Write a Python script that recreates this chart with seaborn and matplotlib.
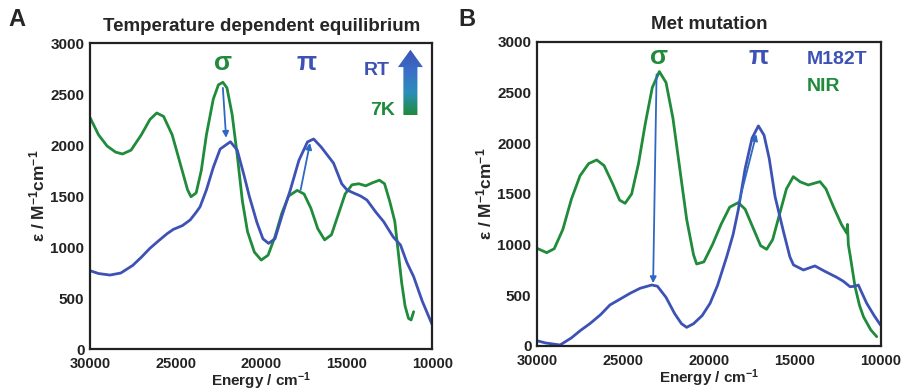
import matplotlib.pyplot as plt
import numpy as np
import pandas as pd
import seaborn as sns
from matplotlib.colors import LinearSegmentedColormap
from matplotlib.patches import FancyArrow

GREEN = "#1f8b3b"
BLUE = "#3d52b4"

# Panel A: temperature dependent equilibrium
a_7k_energy = [30000, 29500, 29000, 28500, 28100, 27600, 27000, 26500, 26100, 25700,
               25200, 24700, 24300, 24100, 23800, 23500, 23200, 22800, 22500, 22240,
               22000, 21700, 21400, 21100, 20800, 20400, 20000, 19600, 19200, 18800,
               18400, 17900, 17500, 17100, 16700, 16300, 15900, 15500, 15100, 14700,
               14300, 13900, 13500, 13100, 12800, 12500, 12200, 12000, 11800, 11600,
               11400, 11250, 11100]
a_7k_eps = [2270, 2100, 1990, 1930, 1912, 1950, 2100, 2250, 2314, 2280,
            2100, 1800, 1560, 1493, 1530, 1750, 2100, 2450, 2590, 2615,
            2560, 2300, 1900, 1450, 1150, 950, 872, 920, 1100, 1330,
            1500, 1555, 1520, 1380, 1180, 1070, 1120, 1320, 1520, 1610,
            1620, 1600, 1630, 1655, 1620, 1450, 1250, 950, 650, 420,
            300, 285, 366]

a_rt_energy = [30000, 29500, 28830, 28200, 27500, 27000, 26500, 26000, 25500, 25130,
               24600, 24150, 23800, 23570, 23200, 22800, 22400, 21800, 21400, 21000,
               20700, 20250, 19900, 19570, 19200, 18800, 18300, 17800, 17300, 16940,
               16500, 15780, 15300, 14990, 14600, 14200, 13830, 13300, 12850, 12300,
               11870, 11500, 11100, 10600, 10010]
a_rt_eps = [768, 740, 725, 745, 820, 900, 987, 1060, 1130, 1173,
            1210, 1265, 1340, 1395, 1560, 1780, 1960, 2032, 1950, 1700,
            1500, 1240, 1080, 1036, 1080, 1300, 1560, 1850, 2030, 2059,
            1980, 1823, 1620, 1559, 1529, 1500, 1461, 1340, 1248, 1100,
            1020, 850, 709, 470, 235]

# Panel B: Met mutation
b_nir_energy = [30000, 29440, 29000, 28500, 28000, 27500, 27000, 26530, 26100, 25600,
                25200, 24880, 24500, 24100, 23700, 23300, 22890, 22500, 22100, 21700,
                21300, 20900, 20720, 20300, 19800, 19300, 18800, 18300, 17900, 17400,
                17000, 16650, 16300, 15900, 15500, 15100, 14700, 14230, 13900, 13550,
                13200, 12770, 12300, 12000, 11950, 11900, 11800, 11510, 11250, 11020,
                10600, 10250]
b_nir_eps = [964, 921, 960, 1150, 1450, 1680, 1800, 1836, 1780, 1600,
             1440, 1408, 1500, 1800, 2200, 2550, 2708, 2600, 2250, 1750,
             1250, 900, 809, 830, 1000, 1200, 1370, 1415, 1350, 1150,
             990, 954, 1050, 1300, 1550, 1671, 1620, 1589, 1605, 1622,
             1550, 1375, 1200, 1115, 1200, 1000, 900, 585, 400, 289,
             160, 92]

b_m182t_energy = [30000, 29500, 28660, 28000, 27500, 26900, 26300, 25760, 25200, 24590,
                  24000, 23330, 23000, 22500, 22000, 21600, 21300, 20900, 20400, 19940,
                  19500, 18970, 18600, 18300, 17900, 17500, 17130, 16800, 16500, 16160,
                  15670, 15300, 15090, 14510, 14100, 13840, 13300, 12580, 12200, 11800,
                  11500, 11320, 11100, 10830, 10400, 10030]
b_m182t_eps = [52, 30, 10, 80, 150, 224, 310, 405, 460, 520,
               570, 602, 590, 480, 320, 220, 184, 220, 300, 421,
               600, 882, 1100, 1343, 1750, 2050, 2172, 2080, 1850, 1474,
               1128, 880, 800, 750, 775, 790, 740, 678, 640, 585,
               590, 602, 520, 421, 300, 207]

sns.set_style("white")
plt.rcParams["font.family"] = ["Liberation Sans", "DejaVu Sans"]
plt.rcParams["font.weight"] = "bold"
plt.rcParams["mathtext.fontset"] = "custom"
plt.rcParams["mathtext.bf"] = "Liberation Sans:bold"
plt.rcParams["mathtext.rm"] = "Liberation Sans:bold"
plt.rcParams["mathtext.default"] = "bf"

fig = plt.figure(figsize=(9.05, 3.91), dpi=100)
ax_a = fig.add_axes([0.0994, 0.1074, 0.3785, 0.7826])
ax_b = fig.add_axes([0.5934, 0.1151, 0.3801, 0.7775])


def style_axes(ax, title):
    ax.set_xlim(30000, 10000)
    ax.set_ylim(0, 3000)
    ax.set_xticks([30000, 25000, 20000, 15000, 10000])
    ax.set_yticks([0, 500, 1000, 1500, 2000, 2500, 3000])
    ax.tick_params(labelsize=11, length=2, width=1.2, colors="#222222")
    ax.tick_params(axis="x", labelsize=10.5, pad=3.5)
    ax.tick_params(axis="y", pad=2)
    for lbl in ax.get_xticklabels() + ax.get_yticklabels():
        lbl.set_fontweight("bold")
    for s in ax.spines.values():
        s.set_linewidth(1.6)
        s.set_color("#222222")
    ax.set_xlabel("Energy / cm$^{-1}$", fontsize=11, fontweight="bold", labelpad=0)
    ax.set_ylabel("ε / M$^{-1}$cm$^{-1}$", fontsize=12.5, fontweight="bold", labelpad=2)
    ax.set_title(title, fontsize=13.5, fontweight="bold", pad=9)


def draw(ax, x, y, color):
    df = pd.DataFrame({"energy": x, "eps": y})
    sns.lineplot(data=df, x="energy", y="eps", ax=ax, color=color, lw=2.0,
                 sort=False, estimator=None)


def arrow(ax, start, end):
    ax.annotate("", xy=end, xytext=start,
                arrowprops=dict(arrowstyle="-|>", color="#2f68c4", lw=1.3,
                                mutation_scale=9, shrinkA=0, shrinkB=0))


# Panel A
draw(ax_a, a_7k_energy, a_7k_eps, GREEN)
draw(ax_a, a_rt_energy, a_rt_eps, BLUE)
style_axes(ax_a, "Temperature dependent equilibrium")
arrow(ax_a, (22240, 2560), (22050, 2070))
arrow(ax_a, (17700, 1560), (17150, 2020))
ax_a.text(22240, 2800, "σ", color=GREEN, fontsize=19, fontweight="bold", ha="center", va="center")
ax_a.text(17330, 2800, "π", color=BLUE, fontsize=19, fontweight="bold", ha="center", va="center")
ax_a.text(13230, 2735, "RT", color=BLUE, fontsize=14, fontweight="bold", ha="center", va="center")
ax_a.text(12940, 2343, "7K", color=GREEN, fontsize=14, fontweight="bold", ha="center", va="center")

# gradient arrow (7K -> RT)
grad = LinearSegmentedColormap.from_list("tg", [GREEN, "#2a8fb8", "#3a6fc8", BLUE])
patch = FancyArrow(11290, 2294, 0, 640, width=820, head_width=1460, head_length=170,
                   length_includes_head=True, transform=ax_a.transData, lw=0)
ax_a.add_patch(patch)
patch.set_visible(False)
img = ax_a.imshow(np.linspace(0, 1, 100).reshape(-1, 1), cmap=grad, origin="lower",
                  extent=(12100, 10500, 2294, 2934), aspect="auto", zorder=3)
img.set_clip_path(patch)
ax_a.set_xlim(30000, 10000)
ax_a.set_ylim(0, 3000)

# Panel B
draw(ax_b, b_nir_energy, b_nir_eps, GREEN)
draw(ax_b, b_m182t_energy, b_m182t_eps, BLUE)
style_axes(ax_b, "Met mutation")
arrow(ax_b, (23050, 2680), (23250, 620))
arrow(ax_b, (18250, 1420), (17250, 2090))
ax_b.text(22890, 2856, "σ", color=GREEN, fontsize=19, fontweight="bold", ha="center", va="center")
ax_b.text(17130, 2856, "π", color=BLUE, fontsize=19, fontweight="bold", ha="center", va="center")
ax_b.text(14320, 2823, "M182T", color=BLUE, fontsize=14, fontweight="bold", ha="left", va="center")
ax_b.text(14320, 2560, "NIR", color=GREEN, fontsize=14, fontweight="bold", ha="left", va="center")

fig.text(8 / 905, 1 - 20 / 391, "A", fontsize=17, fontweight="bold", va="center")
fig.text(458 / 905, 1 - 20 / 391, "B", fontsize=17, fontweight="bold", va="center")

fig.savefig("out.png", dpi=100)
